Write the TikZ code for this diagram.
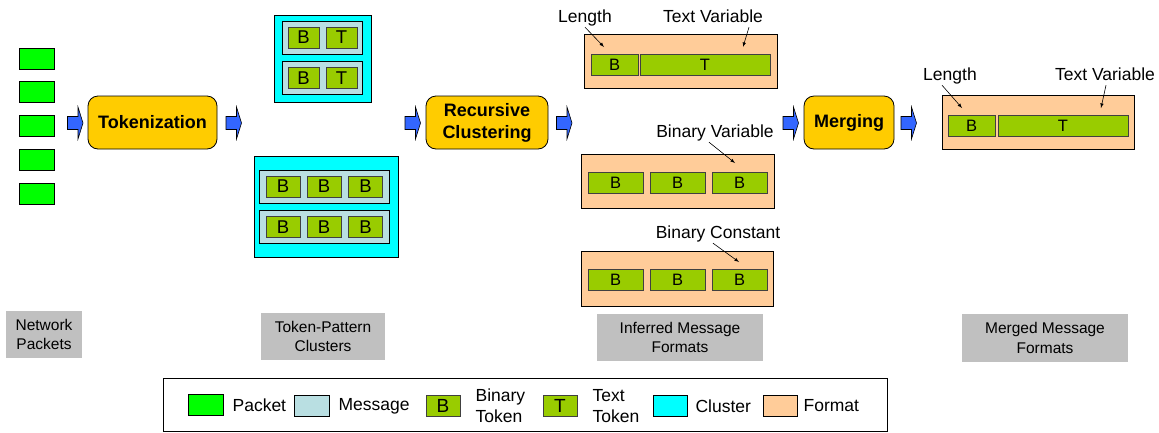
\documentclass[tikz,border=0pt]{standalone}
\usepackage{fontspec}
\setmainfont{Liberation Sans}
\usetikzlibrary{positioning}
\definecolor{pktgreen}{HTML}{00FF00}
\definecolor{msgblue}{HTML}{B9DFE2}
\definecolor{tokgreen}{HTML}{99CC00}
\definecolor{clcyan}{HTML}{00FFFF}
\definecolor{fmtpeach}{HTML}{FFCC99}
\definecolor{procorange}{HTML}{FFCC00}
\definecolor{capgrey}{HTML}{C0C0C0}
\definecolor{arrowblue}{HTML}{3366FF}
\tikzset{>=latex}
\tikzset{
  packet/.style={draw,line width=0.8pt,fill=pktgreen,minimum width=35pt,minimum height=21pt,inner sep=0pt},
  procbox/.style={draw,line width=0.8pt,fill=procorange,rounded corners=10pt,align=center,inner sep=0pt,
    minimum height=53pt,font=\bfseries\fontsize{18}{22}\selectfont},
  cluster/.style={draw,line width=0.8pt,fill=clcyan,inner sep=0pt},
  message/.style={draw,line width=0.8pt,fill=msgblue,inner sep=0pt},
  token/.style={draw=black!75,line width=0.8pt,fill=tokgreen,inner sep=0pt,minimum height=21pt,
    font=\fontsize{18.5}{21}\selectfont},
  ftoken/.style={token,font=\fontsize{16.5}{19}\selectfont},
  ltoken/.style={token,minimum width=34pt,font=\fontsize{19}{21}\selectfont},
  format/.style={draw,line width=0.8pt,fill=fmtpeach,inner sep=0pt},
  caption/.style={fill=capgrey,align=center,inner sep=0pt,font=\fontsize{15.5}{19.5}\selectfont},
  fieldlabel/.style={inner sep=1pt,text height=12.5pt,text depth=3.5pt,font=\fontsize{17.5}{21}\selectfont},
  legtext/.style={inner sep=0pt,align=left,font=\fontsize{17.5}{21}\selectfont},
  pointer/.style={->,line width=0.6pt},
  blockarr/.pic={
    \draw[fill=arrowblue,line width=0.6pt] (-7.5,6.5) -- (3,6.5) -- (3,16) -- (8,0)
      -- (3,-16) -- (3,-6.5) -- (-7.5,-6.5) -- cycle;
  }
}

\begin{document}
\begin{tikzpicture}[x=1pt,y=-1pt]
  \useasboundingbox (0,0) rectangle (1159,432);

  % Packets
  \foreach \y [count=\i] in {58.5,92,126,159.5,193.5}
    \node[packet] (pk\i) at (36.5,\y) {};

  % Steps
  \node[procbox,minimum width=129pt] (tok) at (152.5,122.5) {Tokenization};
  \node[procbox,minimum width=122pt] (rec) at (487,122.5) {Recursive\\Clustering};
  \node[procbox,minimum width=90pt] (mrg) at (849,122.5) {Merging};

  % Block arrows
  \foreach \x [count=\i] in {75,233.5,412.5,564,790.5,908.5}
    \pic (arr\i) at (\x,123) {blockarr};

  % Cluster with B T messages
  \node[cluster,minimum width=97pt,minimum height=87pt] (cl1) at (322.5,58.5) {};
  \foreach \y [count=\i] in {37.5,78} {
    \node[message,minimum width=80pt,minimum height=33pt] (m1\i) at (322,\y) {};
    \node[token,minimum width=31pt] (m1\i b) at (303.5,\y) {B};
    \node[token,minimum width=31pt] (m1\i t) at (341.5,\y) {T};
  }

  % Cluster with B B B messages
  \node[cluster,minimum width=144pt,minimum height=101pt] (cl2) at (326,206.5) {};
  \foreach \y [count=\i] in {186.5,227} {
    \node[message,minimum width=130pt,minimum height=33pt] (m2\i) at (324,\y) {};
    \foreach \x [count=\j] in {283,324,365.5}
      \node[token,minimum width=34pt] (m2\i\j) at (\x,\y) {B};
  }

  % Inferred formats
  \node[format,minimum width=193pt,minimum height=54pt] (f1) at (680.5,61) {};
  \node[ftoken,minimum width=47pt] (f1b) at (614.5,64.5) {B};
  \node[ftoken,minimum width=130pt] (f1t) at (705,64.5) {T};
  \node[format,minimum width=193pt,minimum height=54pt] (f2) at (677.5,181) {};
  \foreach \x [count=\j] in {615.5,677.5,739.5}
    \node[ftoken,minimum width=55pt] (f2\j) at (\x,182.5) {B};
  \node[format,minimum width=192pt,minimum height=55pt] (f3) at (677,278.5) {};
  \foreach \x [count=\j] in {615.5,677.5,739.5}
    \node[ftoken,minimum width=55pt] (f3\j) at (\x,279.5) {B};

  % Merged format
  \node[format,minimum width=192pt,minimum height=54pt] (mf) at (1038,122) {};
  \node[ftoken,minimum width=47pt] (mfb) at (971.5,126) {B};
  \node[ftoken,minimum width=130pt] (mft) at (1063,126) {T};

  % Field labels
  \node[fieldlabel] (len1) at (585,18) {Length};
  \node[fieldlabel] (tv1) at (713,18) {Text Variable};
  \node[fieldlabel] (bv) at (715,133) {Binary Variable};
  \node[fieldlabel] (bc) at (718,234) {Binary Constant};
  \node[fieldlabel] (len2) at (950,76) {Length};
  \node[fieldlabel] (tv2) at (1105,76) {Text Variable};
  \coordinate (len1e) at (604,47);
  \coordinate (tv1e) at (743,47);
  \coordinate (bve) at (735,163);
  \coordinate (bce) at (739,262);
  \coordinate (len2e) at (962,108);
  \coordinate (tv2e) at (1101,108);
  \draw[pointer] (len1.south) -- (len1e);
  \draw[pointer] ([xshift=36pt]tv1.south) -- (tv1e);
  \draw[pointer] ([xshift=-6pt]bv.south) -- (bve);
  \draw[pointer] ([xshift=-5pt]bc.south) -- (bce);
  \draw[pointer] ([xshift=-8pt]len2.south) -- (len2e);
  \draw[pointer] ([xshift=1pt]tv2.south) -- (tv2e);

  % Captions
  \node[caption,minimum width=76pt,minimum height=47pt] (capA) at (44,334.5) {Network\\Packets};
  \node[caption,minimum width=124pt,minimum height=47pt] (capB) at (323,336.5) {Token-Pattern\\Clusters};
  \node[caption,minimum width=166pt,minimum height=47pt] (capC) at (680,337.5) {Inferred Message\\Formats};
  \node[caption,minimum width=166pt,minimum height=48pt] (capD) at (1045,338) {Merged Message\\Formats};

  % Legend
  \node[draw,line width=0.8pt,minimum width=724pt,minimum height=53pt,inner sep=0pt] (leg) at (525,404.5) {};
  \node[packet] (lg1) at (205.5,405) {};
  \node[legtext,right=9pt of lg1] (lt1) {Packet};
  \node[message,minimum width=35pt,minimum height=21pt] (lg2) at (311.5,406) {};
  \node[legtext,right=9pt of lg2] (lt2) {Message};
  \node[ltoken] (lg3) at (443,406) {B};
  \node[legtext,right=15pt of lg3] (lt3) {Binary\\Token};
  \node[ltoken] (lg4) at (560,406) {T};
  \node[legtext,right=15pt of lg4] (lt4) {Text\\Token};
  \node[cluster,minimum width=34pt,minimum height=21pt] (lg5) at (670,406) {};
  \node[legtext,right=8pt of lg5] (lt5) {Cluster};
  \node[format,minimum width=34pt,minimum height=21pt] (lg6) at (780,406) {};
  \node[legtext,right=6pt of lg6] (lt6) {Format};
\end{tikzpicture}
\end{document}
